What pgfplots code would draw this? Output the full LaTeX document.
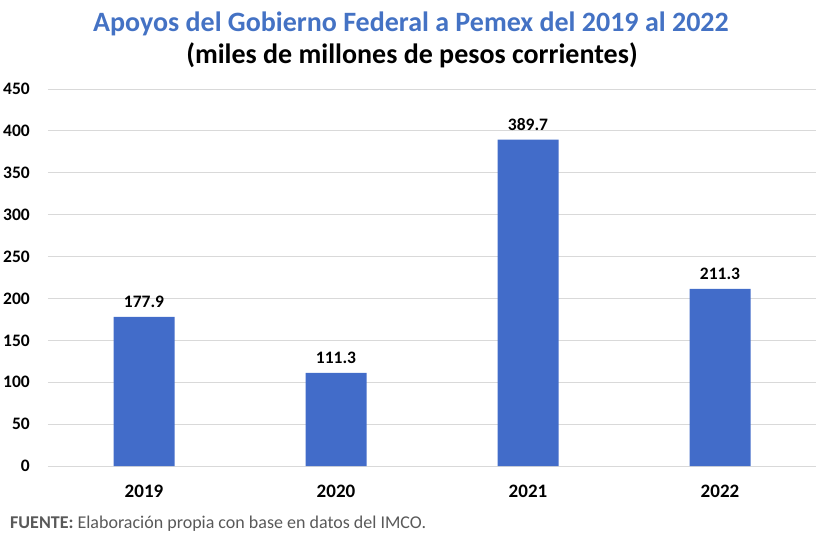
\documentclass[border=0pt]{standalone}
\usepackage{pgfplots}
\pgfplotsset{compat=1.18}
\usepackage{fontspec}
\setmainfont{Carlito}
\definecolor{barblue}{RGB}{66,108,201}
\definecolor{titleblue}{RGB}{68,114,196}
\definecolor{gridgray}{RGB}{217,217,217}
\definecolor{footgray}{RGB}{89,89,89}
\begin{document}
\begin{tikzpicture}
\path[use as bounding box] (0pt,0pt) rectangle (824pt,539pt);
\node[font=\fontsize{28}{32}\selectfont\bfseries, text=titleblue, anchor=base] at (411pt,507pt) {Apoyos del Gobierno Federal a Pemex del 2019 al 2022};
\node[font=\fontsize{28}{32}\selectfont\bfseries, anchor=base] at (412pt,475pt) {(miles de millones de pesos corrientes)};
\node[font=\fontsize{18}{21}\selectfont, text=footgray, anchor=base west, inner sep=0pt] at (10pt,11pt) {\textbf{FUENTE:} Elaboración propia con base en datos del IMCO.};
\begin{axis}[
  at={(48pt,73pt)}, anchor=south west,
  scale only axis, width=768pt, height=377pt,
  xmin=-0.5, xmax=3.5, ymin=0, ymax=450,
  ytick={0,50,...,450},
  xtick={0,1,2,3}, xticklabels={2019,2020,2021,2022},
  axis line style={draw=none},
  major tick length=0pt,
  ymajorgrids, grid style={gridgray, line width=1pt},
  /pgf/number format/assume math mode=true,
  yticklabel style={font=\fontsize{17.5}{20}\selectfont\bfseries, anchor=east, inner sep=0pt, xshift=-18pt},
  xticklabel style={font=\fontsize{19}{22}\selectfont\bfseries, anchor=north, inner sep=0pt, yshift=-19pt},
  ybar, bar width=61pt,
  point meta=explicit symbolic,
  nodes near coords,
  nodes near coords style={font=\fontsize{17.5}{20}\selectfont\bfseries, anchor=south, inner sep=0pt, yshift=9pt},
  clip=false,
]
\addplot[fill=barblue, draw=none] coordinates {(0,177.9)[177.9] (1,111.3)[111.3] (2,389.7)[389.7] (3,211.3)[211.3]};
\end{axis}
\end{tikzpicture}
\end{document}
